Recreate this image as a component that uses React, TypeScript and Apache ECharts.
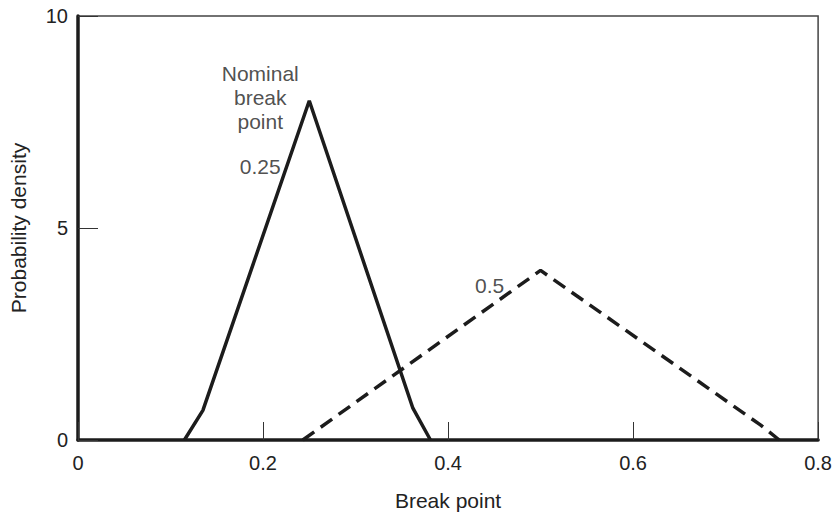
import React, { useEffect, useRef } from "react";
import * as echarts from "echarts";

const solidSeries: [number, number][] = [
  [0.115, 0],
  [0.135, 0.7],
  [0.25, 8],
  [0.362, 0.75],
  [0.381, 0],
];

const dashedSeries: [number, number][] = [
  [0.243, 0],
  [0.5, 4],
  [0.738, 0.35],
  [0.758, 0],
];

const annotationNames = ["Nominal\nbreak\npoint", "0.25", "0.5"];
const annotationCoords: [number, number][] = [
  [0.197, 8.07],
  [0.197, 6.45],
  [0.445, 3.65],
];

const xTicks = [0, 0.2, 0.4, 0.6, 0.8];
const yTicks = [0, 5, 10];

const FONT = "Liberation Sans, Arial, Helvetica, sans-serif";
const INK = "#1c1c1c";

export default function App() {
  const ref = useRef<HTMLDivElement>(null);
  useEffect(() => {
    if (!ref.current) return;
    const chart = echarts.init(ref.current, undefined, { renderer: "svg" });
    chart.setOption({
      animation: false,
      backgroundColor: "#ffffff",
      textStyle: { fontFamily: FONT },
      grid: {
        left: 75,
        right: 10,
        top: 16,
        bottom: 70,
        show: true,
        borderColor: "#444",
        borderWidth: 1.5,
        backgroundColor: "transparent",
      },
      xAxis: {
        type: "value",
        min: xTicks[0],
        max: xTicks[xTicks.length - 1],
        interval: 0.2,
        name: "Break point",
        nameLocation: "middle",
        nameGap: 50,
        nameTextStyle: { fontSize: 21, color: "#222", fontFamily: FONT },
        axisLine: { show: true, onZero: false, lineStyle: { color: INK, width: 3.5 } },
        axisTick: { show: true, inside: true, length: 18, lineStyle: { color: "#333", width: 1 } },
        axisLabel: { fontSize: 20, color: "#222", margin: 13, fontFamily: FONT },
        splitLine: { show: false },
      },
      yAxis: {
        type: "value",
        min: yTicks[0],
        max: yTicks[yTicks.length - 1],
        interval: 5,
        name: "Probability density",
        nameLocation: "middle",
        nameGap: 49,
        nameTextStyle: { fontSize: 21, color: "#222", fontFamily: FONT },
        axisLine: { show: true, onZero: false, lineStyle: { color: INK, width: 3.5 } },
        axisTick: { show: true, inside: true, length: 20, lineStyle: { color: "#333", width: 1 } },
        axisLabel: { fontSize: 20, color: "#222", margin: 10, fontFamily: FONT },
        splitLine: { show: false },
      },
      series: [
        {
          type: "line",
          name: "0.25",
          data: solidSeries,
          symbol: "none",
          lineStyle: { color: INK, width: 3.5, type: "solid" },
          z: 3,
        },
        {
          type: "line",
          name: "0.5",
          data: dashedSeries,
          symbol: "none",
          lineStyle: { color: INK, width: 3.5, type: [14, 8] },
          z: 3,
        },
        {
          type: "scatter",
          data: annotationCoords.map((c, i) => ({ value: c, name: annotationNames[i] })),
          symbolSize: 0,
          silent: true,
          label: {
            show: true,
            position: "inside",
            formatter: (p: any) => p.name,
            fontSize: 21,
            lineHeight: 24,
            color: "#222",
            fontFamily: FONT,
            align: "center",
          },
          z: 4,
        },
      ],
    });
    return () => chart.dispose();
  }, []);
  return <div ref={ref} style={{ width: 835, height: 516, position: "absolute", left: 0, top: 0 }} />;
}
